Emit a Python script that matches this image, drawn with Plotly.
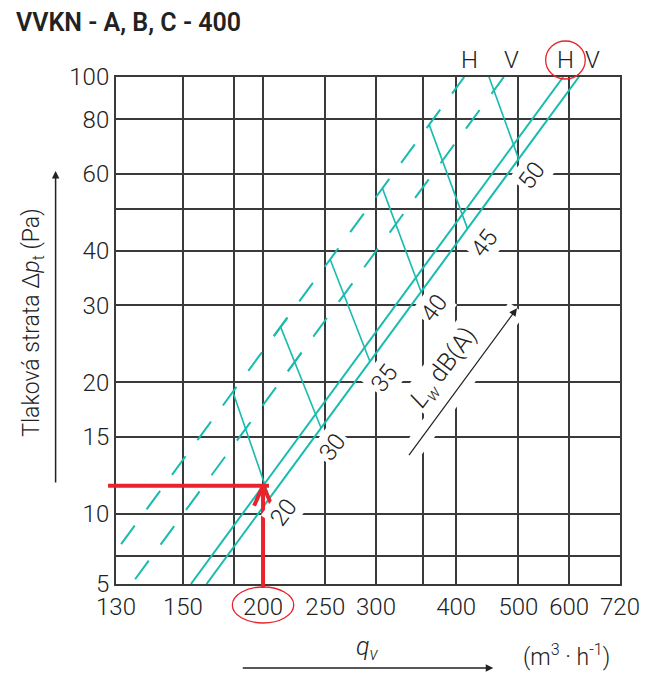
import numpy as np
import plotly.graph_objects as go

# ---------------- data ----------------
x_tickvals = [118, 150, 180, 200, 250, 300, 355, 400, 500, 600, 720]
x_ticktext = ["130", "150", "", "200", "250", "300", "", "400", "500", "600", "720"]
y_tickvals = [6.91, 8, 10, 15, 20, 30, 40, 50, 60, 80, 100]
y_ticktext = ["5", "", "10", "15", "20", "30", "40", "", "60", "80", "100"]

# characteristic lines: flow q (m3/h) vs pressure loss dp (Pa)
solid_H_q = [154.4, 587.2]
solid_H_dp = [6.91, 100]
solid_V_q = [163.3, 621.1]
solid_V_dp = [6.91, 100]
dash_H_q = [118, 411.7]
dash_H_dp = [8.22, 100]
dash_V_q = [124.8, 474.6]
dash_V_dp = [6.91, 100]

# sound power iso-lines Lw dB(A)
lw_levels = ["20", "30", "35", "40", "45", "50"]
lw_q_start = [179.5, 213.0, 254.5, 307.0, 363.0, 450.0]
lw_dp_start = [19.0, 26.8, 38.2, 55.6, 77.8, 100.0]
lw_q_end = [204.7, 246.3, 293.5, 352.6, 416.5, 500.5]
lw_dp_end = [10.86, 15.73, 22.33, 32.23, 44.97, 64.95]
lw_label_q = [215.5, 256.6, 309.3, 369.7, 442.8, 525.0]
lw_label_dp = [10.1, 14.23, 20.44, 29.56, 41.64, 59.7]

lw_arrow_q = [336.3, 497.5]
lw_arrow_dp = [13.52, 29.56]
lw_text_q = 383.2
lw_text_dp = 21.56

top_labels = ["H", "V", "H", "V"]
top_label_q = [419.3, 487.0, 592.0, 651.6]

op_q = 200
op_dp = 11.6

# ---------------- geometry ----------------
W, H = 652, 675
ML, MR, MT, MB = 116, 27, 77, 91
PW, PH = W - ML - MR, H - MT - MB
XR = [np.log10(x_tickvals[0]), np.log10(x_tickvals[-1])]
YR = [np.log10(y_tickvals[0]), np.log10(y_tickvals[-1])]
PXX = PW / (XR[1] - XR[0])
PXY = PH / (YR[1] - YR[0])
m_px = 2 * PXY / PXX
ANG = -np.degrees(np.arctan(m_px))
cos_a = 1 / np.sqrt(1 + m_px ** 2)

def xp(q):
    return (np.log10(q) - XR[0]) / (XR[1] - XR[0])

def yp(p):
    return (np.log10(p) - YR[0]) / (YR[1] - YR[0])

def move(q, p, s):
    """move s pixels along a slope-2 (log-log) line"""
    dl = s * cos_a / PXX
    return q * 10 ** dl, p * 10 ** (2 * dl)

def cross(qs, ps, qe, pe, q0, p0):
    xs, ys, xe, ye = np.log10([qs, ps, qe, pe])
    lq0, lp0 = np.log10(q0), np.log10(p0)
    a = ys - lp0 - 2 * (xs - lq0)
    b = (ye - ys) - 2 * (xe - xs)
    t = -a / b
    return 10 ** (xs + t * (xe - xs)), 10 ** (ys + t * (ye - ys))

TEAL = "#17bcae"
RED = "#e8232b"
INK = "#222222"
GRID = "#3a3a3a"
FONT = "Roboto"
FW = 300
DASH_D, DASH_G = 23, 20

def fnt(size, weight=FW):
    return dict(family=FONT, size=size, color=INK, weight=weight)

fig = go.Figure()

# solid lines
for qq, pp in [(solid_H_q, solid_H_dp), (solid_V_q, solid_V_dp)]:
    fig.add_trace(go.Scatter(x=qq, y=pp, mode="lines",
                             line=dict(color=TEAL, width=2), hoverinfo="skip"))

# dashed lines, phase aligned on the 30 dB iso-line
anchorA = (lw_q_start[1], lw_dp_start[1])
anchorB = cross(lw_q_start[1], lw_dp_start[1], lw_q_end[1], lw_dp_end[1],
                dash_V_q[0], dash_V_dp[0])
for qq, pp, anc in [(dash_H_q, dash_H_dp, anchorA), (dash_V_q, dash_V_dp, anchorB)]:
    up0 = move(anc[0], anc[1], -DASH_D / 2)
    dn0 = move(anc[0], anc[1], DASH_D / 2)
    dash = f"{DASH_D}px,{DASH_G}px"
    fig.add_trace(go.Scatter(x=[up0[0], qq[1]], y=[up0[1], pp[1]], mode="lines",
                             line=dict(color=TEAL, width=2, dash=dash), hoverinfo="skip"))
    fig.add_trace(go.Scatter(x=[dn0[0], qq[0]], y=[dn0[1], pp[0]], mode="lines",
                             line=dict(color=TEAL, width=2, dash=dash), hoverinfo="skip"))

# iso lines
for i in range(len(lw_levels)):
    fig.add_trace(go.Scatter(x=[lw_q_start[i], lw_q_end[i]], y=[lw_dp_start[i], lw_dp_end[i]],
                             mode="lines", line=dict(color=TEAL, width=1.6), hoverinfo="skip"))

# white halo under Lw arrow
fig.add_trace(go.Scatter(x=lw_arrow_q, y=lw_arrow_dp, mode="lines",
                         line=dict(color="white", width=20), hoverinfo="skip"))

# red chevron at operating point
cl = (op_q * 10 ** (-9 / PXX), op_dp * 10 ** (-20 / PXY))
cr = (op_q * 10 ** (9 / PXX), op_dp * 10 ** (-20 / PXY))
fig.add_trace(go.Scatter(x=[cl[0], op_q, cr[0]], y=[cl[1], op_dp, cr[1]], mode="lines",
                         line=dict(color=RED, width=4), hoverinfo="skip"))

ann = []
for i, t in enumerate(lw_levels):
    ann.append(dict(x=np.log10(lw_label_q[i]), y=np.log10(lw_label_dp[i]), xref="x", yref="y",
                    xanchor="center", yanchor="middle",
                    text=t, showarrow=False, textangle=ANG, bgcolor="white", borderpad=2,
                    font=fnt(24)))
ann.append(dict(x=np.log10(lw_text_q), y=np.log10(lw_text_dp), xref="x", yref="y",
                xanchor="center", yanchor="middle",
                text="<i>L</i><sub><i>w</i></sub> dB(A)", showarrow=False, textangle=ANG,
                bgcolor="white", borderpad=2, font=fnt(25)))
ann.append(dict(x=np.log10(lw_arrow_q[1]), y=np.log10(lw_arrow_dp[1]), xref="x", yref="y",
                ax=np.log10(lw_arrow_q[0]), ay=np.log10(lw_arrow_dp[0]), axref="x", ayref="y",
                text="", showarrow=True, arrowhead=2, arrowsize=1.3, arrowwidth=1.2,
                arrowcolor=INK))
for t, q in zip(top_labels, top_label_q):
    ann.append(dict(x=np.log10(q), y=1, xref="x", yref="paper", xanchor="center",
                    yanchor="bottom", yshift=1,
                    text=t, showarrow=False, font=fnt(24)))
# titles
ann.append(dict(x=-103 / PW, y=1 + 54 / PH, xref="paper", yref="paper", xanchor="left",
                yanchor="middle", text="VVKN - A, B, C - 400", showarrow=False,
                font=fnt(25, 600)))
ann.append(dict(x=-84 / PW, y=(584 - 322) / PH, xref="paper", yref="paper", textangle=-90,
                xanchor="center", yanchor="middle",
                text="Tlaková strata Δ<i>p</i><sub>t</sub> (Pa)", showarrow=False,
                font=fnt(23)))
ann.append(dict(x=-61 / PW, y=(584 - 171) / PH, xref="paper", yref="paper", text="",
                showarrow=True, ax=0, ay=313, arrowhead=2, arrowsize=1, arrowwidth=1.5,
                arrowcolor=INK))
ann.append(dict(x=(370 - ML) / PW, y=(584 - 648) / PH, xref="paper", yref="paper",
                xanchor="center", yanchor="middle",
                text="<i>q</i><sub><i>v</i></sub>", showarrow=False, font=fnt(25)))
ann.append(dict(x=(497 - ML) / PW, y=(584 - 668) / PH, xref="paper", yref="paper", text="",
                showarrow=True, ax=-252, ay=0, arrowhead=2, arrowsize=1, arrowwidth=1.5,
                arrowcolor=INK))
ann.append(dict(x=(571 - ML) / PW, y=(584 - 655) / PH, xref="paper", yref="paper",
                xanchor="center", yanchor="middle",
                text="(m<sup>3</sup> · h<sup>-1</sup>)", showarrow=False, font=fnt(23)))

shapes = [
    dict(type="line", xref="paper", yref="y", x0=-8 / PW, x1=xp(op_q) + 6 / PW,
         y0=op_dp, y1=op_dp, line=dict(color=RED, width=4), layer="above"),
    dict(type="line", xref="x", yref="paper", x0=op_q, x1=op_q,
         y0=-4 / PH, y1=yp(op_dp) - 2 / PH, line=dict(color=RED, width=4), layer="above"),
    dict(type="circle", xref="paper", yref="paper",
         x0=xp(op_q) - 31 / PW, x1=xp(op_q) + 31 / PW, y0=-39 / PH, y1=-3 / PH,
         line=dict(color=RED, width=1.3)),
    dict(type="circle", xref="paper", yref="paper",
         x0=xp(top_label_q[2]) - 20 / PW, x1=xp(top_label_q[2]) + 20 / PW,
         y0=1 - 2 / PH, y1=1 + 36 / PH, line=dict(color=RED, width=1.3)),
]

axis_common = dict(type="log", showgrid=True, gridcolor=GRID, gridwidth=2, showline=True,
                   linecolor=GRID, linewidth=2, mirror=True, ticks="", zeroline=False,
                   tickfont=fnt(24), tickmode="array", fixedrange=True)
fig.update_layout(
    width=W, height=H, margin=dict(l=ML, r=MR, t=MT, b=MB),
    paper_bgcolor="white", plot_bgcolor="white", showlegend=False,
    xaxis=dict(range=XR, tickvals=x_tickvals, ticktext=x_ticktext, tickangle=0, **axis_common),
    yaxis=dict(range=YR, tickvals=y_tickvals, ticktext=y_ticktext, **axis_common),
    annotations=ann, shapes=shapes, hovermode=False,
)
fig.write_html("out.html")
